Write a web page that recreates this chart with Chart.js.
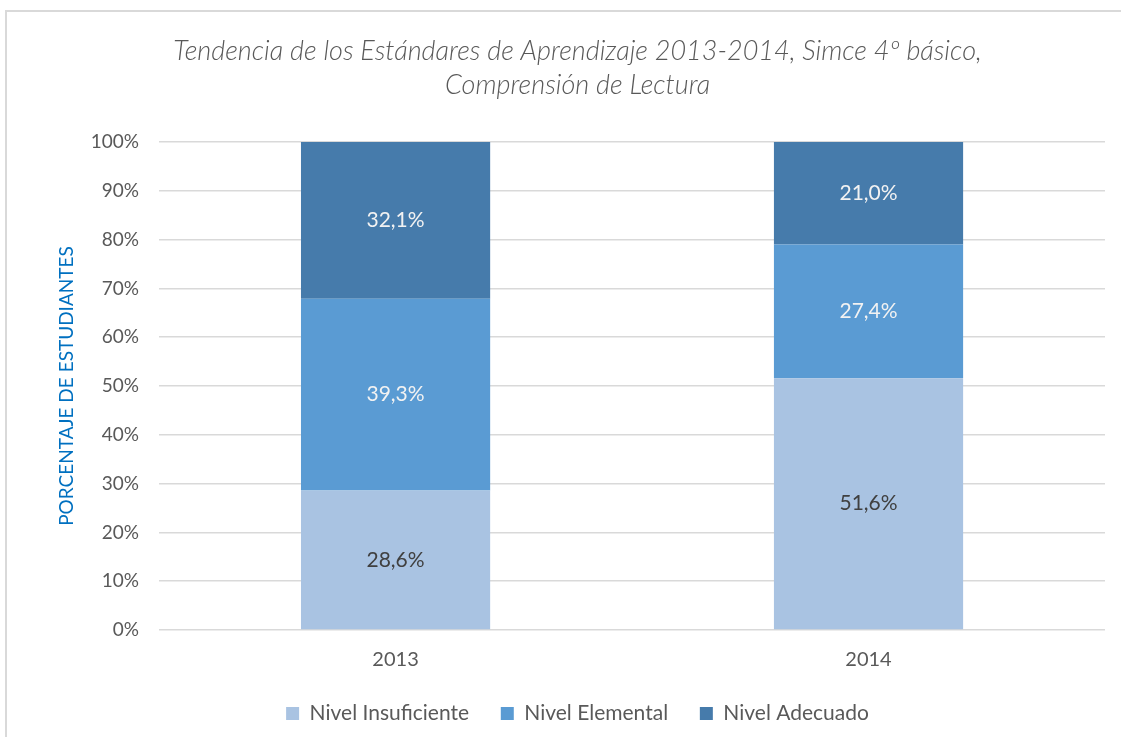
<!DOCTYPE html>
<html>
<head>
<meta charset="utf-8">
<script src="https://cdn.jsdelivr.net/npm/chart.js@4.4.0/dist/chart.umd.min.js"></script>
<style>
  html, body { margin: 0; padding: 0; background: #ffffff; }
  #wrap { position: relative; width: 1121px; height: 737px; }
  #frame { position: absolute; left: 5px; top: 10px; right: 0; bottom: 0;
           border-top: 2px solid #d9d9d9; border-left: 2px solid #d9d9d9; pointer-events: none; }
</style>
</head>
<body>
<div id="wrap">
  <canvas id="c" width="1121" height="737"></canvas>
  <div id="frame"></div>
</div>
<script>
const categories = ['2013', '2014'];
const seriesNames = ['Nivel Insuficiente', 'Nivel Elemental', 'Nivel Adecuado'];
const insuficiente = [28.6, 51.6];
const elemental = [39.3, 27.4];
const adecuado = [32.1, 21.0];
const yTicks = [0, 10, 20, 30, 40, 50, 60, 70, 80, 90, 100];

const colors = ['#a9c3e2', '#5a9bd3', '#467bab'];
const labelColors = ['#404040', '#f2f2f2', '#f2f2f2'];
const FONT = 'Lato, "Open Sans", sans-serif';

const dataLabels = {
  id: 'dataLabels',
  afterDatasetsDraw(chart) {
    const ctx = chart.ctx;
    ctx.save();
    ctx.font = '21px ' + FONT;
    ctx.textAlign = 'center';
    ctx.textBaseline = 'middle';
    chart.data.datasets.forEach((ds, di) => {
      const meta = chart.getDatasetMeta(di);
      meta.data.forEach((el, i) => {
        const v = ds.data[i];
        const p = el.getProps(['x', 'y', 'base'], true);
        ctx.fillStyle = labelColors[di];
        ctx.fillText(v.toFixed(1).replace('.', ',') + '%', p.x, (p.y + p.base) / 2);
      });
    });
    ctx.restore();
  }
};

new Chart(document.getElementById('c'), {
  type: 'bar',
  data: {
    labels: categories,
    datasets: [
      { label: seriesNames[0], data: insuficiente, backgroundColor: colors[0] },
      { label: seriesNames[1], data: elemental, backgroundColor: colors[1] },
      { label: seriesNames[2], data: adecuado, backgroundColor: colors[2] }
    ]
  },
  options: {
    responsive: false,
    animation: false,
    layout: { padding: { left: 50, right: 16, top: 20, bottom: 3 } },
    datasets: { bar: { categoryPercentage: 1.0, barPercentage: 0.4 } },
    scales: {
      x: {
        stacked: true,
        grid: { display: false },
        border: { display: false },
        ticks: { color: '#595959', font: { family: FONT, size: 20 }, padding: 10 }
      },
      y: {
        stacked: true,
        min: 0, max: 100,
        afterBuildTicks(axis) { axis.ticks = yTicks.map(v => ({ value: v })); },
        grid: { color: '#d9d9d9', lineWidth: 1.5, drawTicks: false },
        border: { display: false },
        ticks: { color: '#595959', font: { family: FONT, size: 19 }, padding: 20,
                 callback: v => v + '%' },
        title: { display: true, text: 'PORCENTAJE DE ESTUDIANTES', color: '#0070c0',
                 font: { family: FONT, size: 19 }, padding: { top: 5, bottom: -7 } }
      }
    },
    plugins: {
      title: {
        display: true,
        text: ['Tendencia de los Estándares de Aprendizaje 2013-2014, Simce 4º básico,', 'Comprensión de Lectura'],
        color: '#595959',
        font: { family: FONT, size: 27, style: 'italic', weight: '300', lineHeight: 1.26 },
        padding: { top: 14, bottom: 40 }
      },
      legend: {
        position: 'bottom',
        labels: {
          color: '#595959', font: { family: FONT, size: 21 }, boxWidth: 13, boxHeight: 13, padding: 21,
          generateLabels(chart) {
            const items = Chart.defaults.plugins.legend.labels.generateLabels(chart);
            items.forEach((it, i) => { if (i < items.length - 1) it.text = it.text + '  '; });
            return items;
          }
        }
      },
      tooltip: { enabled: false }
    }
  },
  plugins: [dataLabels]
});
</script>
</body>
</html>
